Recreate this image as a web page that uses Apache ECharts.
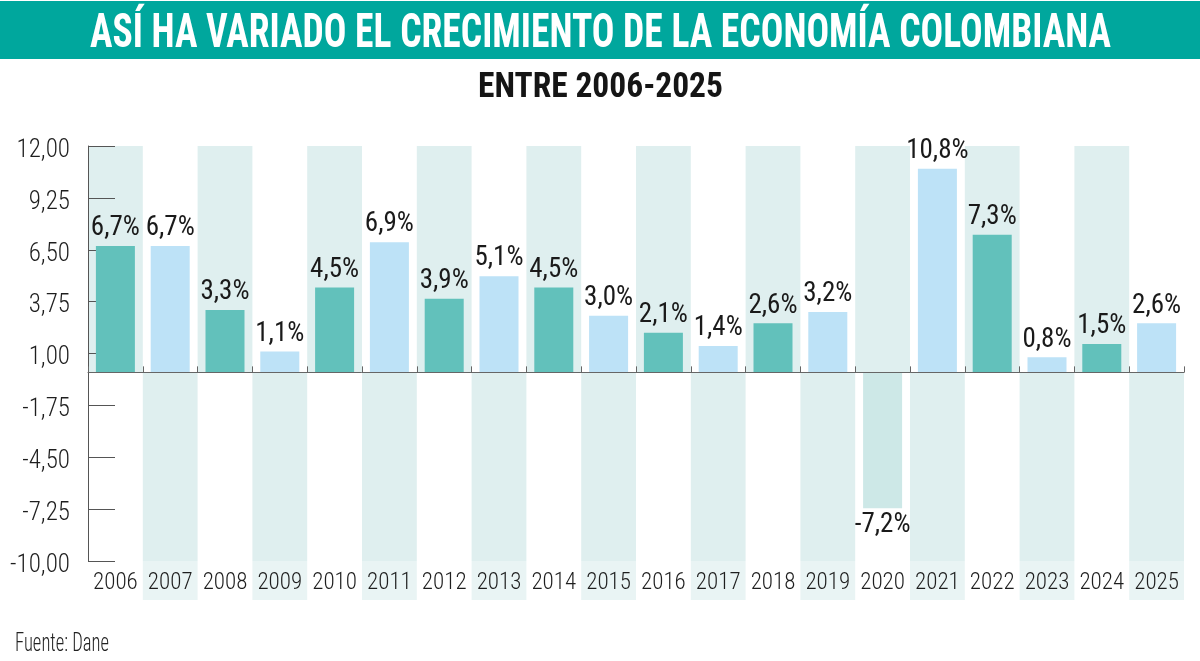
<!DOCTYPE html>
<html>
<head>
<meta charset="utf-8">
<script src="https://cdn.jsdelivr.net/npm/echarts@6/dist/echarts.min.js"></script>
<style>
html,body{margin:0;padding:0;background:#fff;}
#chart{width:1200px;height:661px;}
</style>
</head>
<body>
<div id="chart"></div>
<script>
// ---- data ----
const years = ['2006','2007','2008','2009','2010','2011','2012','2013','2014','2015','2016','2017','2018','2019','2020','2021','2022','2023','2024','2025'];
const growth = [6.7, 6.7, 3.3, 1.1, 4.5, 6.9, 3.9, 5.1, 4.5, 3.0, 2.1, 1.4, 2.6, 3.2, -7.2, 10.8, 7.3, 0.8, 1.5, 2.6];
const yMin = -10;
const yMax = 12;
const yStep = 2.75;
const titleText = 'ASÍ HA VARIADO EL CRECIMIENTO DE LA ECONOMÍA COLOMBIANA';
const subtitleText = 'ENTRE 2006-2025';
const sourceText = 'Fuente: Dane';

// ---- styles ----
const NARROW = '"Roboto Condensed", "DejaVu Sans Condensed", Roboto, sans-serif';
const TEAL = '#62c1bb';
const BLUE = '#bde2f7';
const NEG = '#cde8e7';
const STRIPE = '#dfefef';
const STRIPE_LIGHT = '#e9f4f4';
const BANNER = '#00a79d';

const ctx = document.createElement('canvas').getContext('2d');
function fitScale(text, font, target) {
  ctx.font = font;
  const w = ctx.measureText(text).width;
  return w > 0 ? target / w : 1;
}
const titleFont = 'bold 49px ' + NARROW;
const subFont = 'bold 35px ' + NARROW;
const srcFont = '300 25px ' + NARROW;
const titleScale = fitScale(titleText, titleFont, 1021);
const subScale = fitScale(subtitleText, subFont, 245);
const srcScale = fitScale(sourceText, srcFont, 94);

const fmtNum = v => '{n|' + v.toFixed(2).replace('.', ',') + '}';
const fmtPct = v => v.toFixed(1).replace('.', ',') + '%';

const chart = echarts.init(document.getElementById('chart'), null, {renderer: 'canvas'});

const option = {
  animation: false,
  backgroundColor: '#ffffff',
  grid: {left: 88, right: 16, top: 146, bottom: 100, containLabel: false},
  graphic: [
    {type: 'rect', left: 0, top: 1, shape: {width: 1200, height: 58}, style: {fill: BANNER}, z: 10},
    {type: 'text', x: 90, y: 35, scaleX: titleScale, z: 11,
      style: {text: titleText, font: titleFont, fill: '#ffffff', textAlign: 'left', textVerticalAlign: 'middle'}},
    {type: 'text', x: 478, y: 88, scaleX: subScale, z: 11,
      style: {text: subtitleText, font: subFont, fill: '#151515', textAlign: 'left', textVerticalAlign: 'middle'}},
    {type: 'text', x: 15, y: 645, scaleX: srcScale, z: 11,
      style: {text: sourceText, font: srcFont, fill: '#222222', textAlign: 'left', textVerticalAlign: 'middle'}}
  ],
  xAxis: [
    {
      type: 'category', data: years, position: 'bottom',
      axisLine: {show: false, onZero: false},
      axisTick: {show: false},
      axisLabel: {interval: 0, margin: 11, fontFamily: NARROW, fontWeight: 300, fontSize: 23, color: '#1e1e1e'},
      splitLine: {show: false}
    },
    {
      type: 'category', data: years, position: 'bottom', z: 4,
      axisLine: {show: true, onZero: true, lineStyle: {color: '#666666', width: 1}},
      axisTick: {show: true, inside: true, length: 6, interval: 0, lineStyle: {color: '#666666'}},
      axisLabel: {show: false},
      splitLine: {show: false}
    }
  ],
  yAxis: {
    type: 'value', min: yMin, max: yMax, interval: yStep, z: 1,
    axisLine: {show: true, onZero: false, lineStyle: {color: '#555555', width: 1}},
    axisTick: {show: true, inside: true, length: 27, lineStyle: {color: '#555555'}},
    axisLabel: {margin: 18, formatter: fmtNum,
      rich: {n: {fontFamily: NARROW, fontWeight: 300, fontSize: 25, color: '#1e1e1e', padding: [9, 0, 0, 0]}}},
    splitLine: {show: false}
  },
  series: [
    {
      type: 'custom', xAxisIndex: 0, z: 0, silent: true, clip: false,
      data: years.map((y, i) => [i]),
      encode: {x: 0},
      renderItem: function (params, api) {
        const i = api.value(0);
        const zero = api.coord([i, 0]);
        const w = api.size([1, 0])[0];
        const top = api.coord([i, yMax])[1];
        const bot = api.coord([i, yMin])[1];
        const x = zero[0] - w / 2;
        if (i % 2 === 0) {
          return {type: 'rect', shape: {x: x, y: top, width: w, height: zero[1] - top}, style: {fill: STRIPE}};
        }
        return {type: 'group', children: [
          {type: 'rect', shape: {x: x, y: zero[1], width: w, height: bot - zero[1]}, style: {fill: STRIPE}},
          {type: 'rect', shape: {x: x, y: bot, width: w, height: 39}, style: {fill: STRIPE_LIGHT}}
        ]};
      }
    },
    {
      type: 'bar', xAxisIndex: 0, z: 2, barWidth: 39,
      data: growth.map(v => ({value: v, label: {position: v < 0 ? 'bottom' : 'top'}})),
      itemStyle: {
        color: function (p) {
          if (p.value < 0) return NEG;
          return p.dataIndex % 2 === 0 ? TEAL : BLUE;
        }
      },
      label: {
        show: true, distance: 4, fontFamily: NARROW, fontWeight: 400, fontSize: 27, color: '#1a1a1a',
        formatter: p => fmtPct(p.value)
      }
    }
  ]
};
chart.setOption(option);
</script>
</body>
</html>
